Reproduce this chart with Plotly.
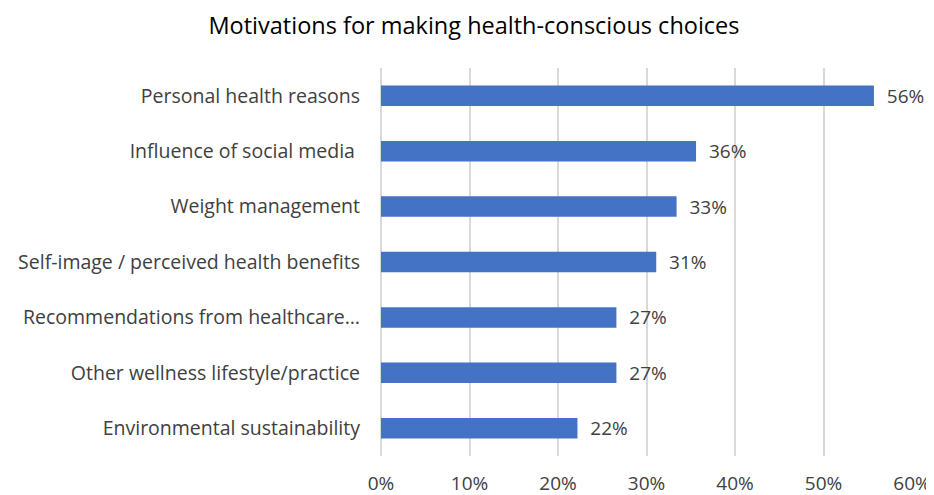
import plotly.graph_objects as go

categories = [
    "Personal health reasons",
    "Influence of social media ",
    "Weight management",
    "Self-image / perceived health benefits",
    "Recommendations from healthcare…",
    "Other wellness lifestyle/practice",
    "Environmental sustainability",
]
values = [0.557, 0.356, 0.334, 0.311, 0.266, 0.266, 0.222]
x_ticks = [0, 0.1, 0.2, 0.3, 0.4, 0.5, 0.6]
x_tick_labels = ["0%", "10%", "20%", "30%", "40%", "50%", "60%"]

FONT = "Open Sans"
# the page body has an 8px default margin; size the figure to fill the rest
W, H = 926, 487

fig = go.Figure(
    go.Bar(
        x=values,
        y=categories,
        orientation="h",
        marker=dict(color="#4472C4", line=dict(width=0)),
        text=[f"  {round(v*100)}%" for v in values],
        textposition="outside",
        constraintext="none",
        textfont=dict(family=FONT, size=19, color="#404040"),
        cliponaxis=False,
    )
)

fig.update_layout(
    width=W,
    height=H,
    paper_bgcolor="white",
    plot_bgcolor="white",
    margin=dict(l=373, r=22, t=60, b=39),
    bargap=0.63,
    showlegend=False,
    title=dict(
        text="Motivations for making health-conscious choices",
        x=466 / W,
        xanchor="center",
        y=1 - 18 / H,
        yanchor="middle",
        font=dict(family=FONT, size=23.5, color="#000000"),
    ),
    xaxis=dict(
        range=[0, 0.6],
        tickvals=x_ticks,
        ticktext=x_tick_labels,
        showgrid=True,
        gridcolor="#D9D9D9",
        gridwidth=2,
        zeroline=True,
        zerolinecolor="#D9D9D9",
        zerolinewidth=2,
        showline=False,
        ticks="",
        ticklabelstandoff=14,
        tickfont=dict(family=FONT, size=19, color="#404040"),
        automargin=False,
        fixedrange=True,
    ),
    yaxis=dict(
        autorange="reversed",
        showgrid=False,
        zeroline=False,
        showline=False,
        ticks="",
        ticklabelstandoff=20,
        tickfont=dict(family=FONT, size=19.5, color="#404040"),
        automargin=False,
        fixedrange=True,
    ),
)

fig.write_html("out.html")
